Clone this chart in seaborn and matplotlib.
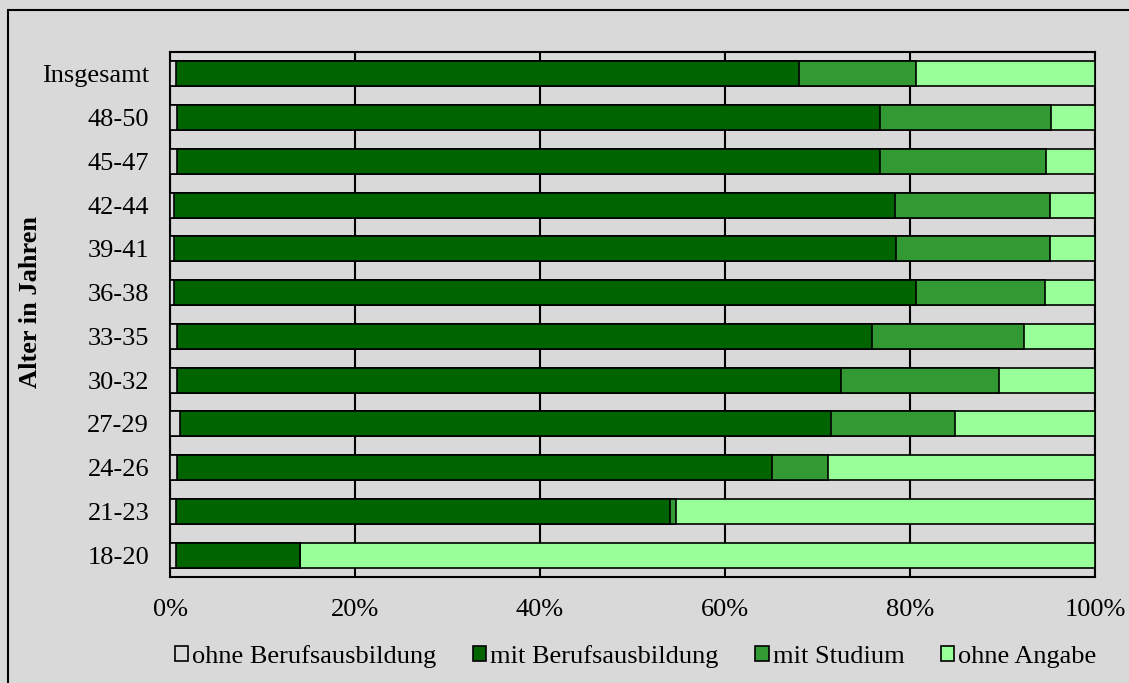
import numpy as np
import pandas as pd
import matplotlib
matplotlib.use('Agg')
import matplotlib.pyplot as plt
import seaborn as sns
from matplotlib.patches import Patch, Rectangle

# Altersgruppen (von oben nach unten)
groups = ['Insgesamt', '48-50', '45-47', '42-44', '39-41', '36-38',
          '33-35', '30-32', '27-29', '24-26', '21-23', '18-20']

# Anteile in %
ohne_beruf = [0.6, 0.7, 0.8, 0.4, 0.4, 0.4, 0.8, 0.7, 1.1, 0.8, 0.6, 0.6]
mit_beruf = [67.4, 76.1, 76.0, 78.0, 78.1, 80.2, 75.1, 71.8, 70.4, 64.3, 53.4, 13.4]
mit_studium = [12.7, 18.4, 17.9, 16.7, 16.6, 14.0, 16.4, 17.1, 13.4, 6.0, 0.7, 0.0]
ohne_angabe = [19.3, 4.8, 5.3, 4.9, 4.9, 5.4, 7.7, 10.4, 15.1, 28.9, 45.3, 86.0]

series_names = ['ohne Berufsausbildung', 'mit Berufsausbildung', 'mit Studium', 'ohne Angabe']
colors = ['#d9d9d9', '#006400', '#339933', '#99ff99']

bg = '#d9d9d9'
sns.set_style('white')
plt.rcParams['font.family'] = ['Liberation Serif', 'DejaVu Serif']
plt.rcParams['text.color'] = 'black'

df = pd.DataFrame({'group': groups,
                   series_names[0]: ohne_beruf,
                   series_names[1]: mit_beruf,
                   series_names[2]: mit_studium,
                   series_names[3]: ohne_angabe})
cum = df[series_names].cumsum(axis=1)

fig = plt.figure(figsize=(11.29, 6.83), dpi=100, facecolor=bg)
ax = fig.add_axes([0.1506, 0.1552, 0.8193, 0.7687])
ax.set_facecolor(bg)

# gestapelte Balken: von der groessten Summe nach unten uebereinander zeichnen
for name, col in reversed(list(zip(series_names, colors))):
    sns.barplot(x=cum[name], y=df['group'], order=groups, color=col,
                orient='h', width=0.57, edgecolor='black', linewidth=1.2,
                saturation=1, ax=ax, zorder=3)

ax.set_xlim(0, 100)
ax.set_ylim(11.5, -0.5)
ax.set_xticks([0, 20, 40, 60, 80, 100])
ax.set_xticklabels(['0%', '20%', '40%', '60%', '80%', '100%'])
ax.xaxis.grid(True, color='black', linewidth=1.5, zorder=0)
ax.set_axisbelow(True)
for s in ax.spines.values():
    s.set_visible(True)
    s.set_color('black')
    s.set_linewidth(1.5)
ax.tick_params(axis='both', length=0, labelsize=19, colors='black')
ax.tick_params(axis='y', pad=15)
ax.tick_params(axis='x', pad=16)
ax.set_xlabel('')
ax.set_ylabel('Alter in Jahren', fontsize=19, fontweight='bold', color='black')
ax.yaxis.set_label_coords(-0.138, 0.524)

handles = [Patch(facecolor=c, edgecolor='black', linewidth=1.2) for c in colors]
fig.legend(handles, series_names, loc='center', bbox_to_anchor=(0.563, 0.039),
           ncol=4, frameon=False, fontsize=19, handlelength=0.5, handleheight=0.5,
           handletextpad=0.15, columnspacing=1.4)

# Rahmen um das Diagramm
fig.patches.append(Rectangle((0.0071, -0.1), 1.2, 0.9854 + 0.1, transform=fig.transFigure,
                             fill=False, edgecolor='black', linewidth=1.5))

fig.savefig('out.png', dpi=100, facecolor=bg)
